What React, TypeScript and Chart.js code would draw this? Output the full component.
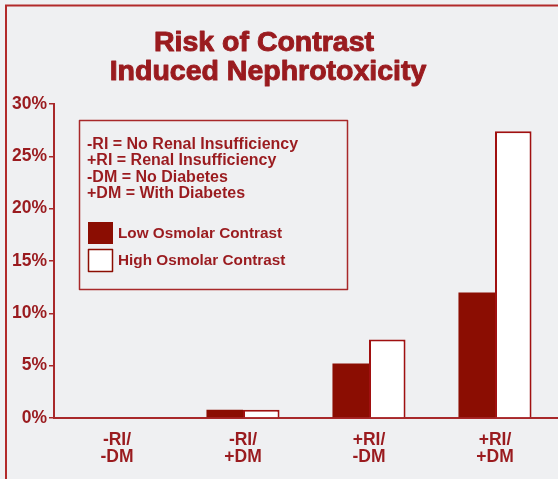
import React, { useEffect, useRef } from "react";
import { Chart, registerables } from "chart.js";

Chart.register(...registerables);

const categories: string[][] = [["-RI/", "-DM"], ["-RI/", "+DM"], ["+RI/", "-DM"], ["+RI/", "+DM"]];
const lowOsmolar: number[] = [0, 0.8, 5.2, 12];
const highOsmolar: number[] = [0, 0.8, 7.5, 27.4];
const yTicks: number[] = [0, 5, 10, 15, 20, 25, 30];
const titleLines: string[] = ["Risk of Contrast", "Induced Nephrotoxicity"];
const keyLines: string[] = [
  "-RI = No Renal Insufficiency",
  "+RI = Renal Insufficiency",
  "-DM = No Diabetes",
  "+DM = With Diabetes",
];
const seriesNames: string[] = ["Low Osmolar Contrast", "High Osmolar Contrast"];

const RED_TEXT = "#9a1b1f";
const DARK = "#8b0d02";
const BG = "#eff0f2";
const FONT = "'Liberation Sans', Arial, sans-serif";

const decorPlugin = {
  id: "decor",
  beforeDraw(chart: any) {
    const ctx = chart.ctx;
    ctx.save();
    ctx.fillStyle = BG;
    ctx.fillRect(0, 0, chart.width, chart.height);
    ctx.strokeStyle = "#b22a2a";
    ctx.lineWidth = 2;
    ctx.beginPath();
    ctx.moveTo(6, chart.height + 2);
    ctx.lineTo(6, 5.5);
    ctx.lineTo(chart.width + 2, 5.5);
    ctx.stroke();
    ctx.restore();
  },
  afterDraw(chart: any) {
    const ctx = chart.ctx;
    ctx.save();
    ctx.fillStyle = RED_TEXT;
    ctx.strokeStyle = RED_TEXT;
    ctx.lineWidth = 1;
    ctx.lineJoin = "round";
    ctx.font = `bold 28.5px ${FONT}`;
    ctx.textAlign = "center";
    ctx.textBaseline = "middle";
    ctx.fillText(titleLines[0], 264, 43);
    ctx.strokeText(titleLines[0], 264, 43);
    ctx.fillText(titleLines[1], 268, 72);
    ctx.strokeText(titleLines[1], 268, 72);
    ctx.strokeStyle = "#a8282a";
    ctx.lineWidth = 1.5;
    ctx.strokeRect(79.5, 120.5, 268, 169);
    ctx.font = `bold 16px ${FONT}`;
    ctx.textAlign = "left";
    keyLines.forEach((t, i) => ctx.fillText(t, 87, 144.5 + i * 16.3));
    ctx.fillStyle = DARK;
    ctx.fillRect(88, 222, 25, 22);
    ctx.fillStyle = "#ffffff";
    ctx.fillRect(88.5, 249.5, 24, 22);
    ctx.strokeStyle = DARK;
    ctx.lineWidth = 1.5;
    ctx.strokeRect(88.5, 249.5, 24, 22);
    ctx.fillStyle = RED_TEXT;
    ctx.font = `bold 15.3px ${FONT}`;
    ctx.fillText(seriesNames[0], 118, 234);
    ctx.fillText(seriesNames[1], 118, 261);
    ctx.restore();
  },
};

export default function App() {
  const ref = useRef<HTMLCanvasElement | null>(null);
  useEffect(() => {
    document.body.style.margin = "0";
    document.body.style.background = BG;
    const chart = new Chart(ref.current as HTMLCanvasElement, {
      type: "bar",
      data: {
        labels: categories,
        datasets: [
          {
            label: seriesNames[0],
            data: lowOsmolar,
            backgroundColor: DARK,
            borderWidth: 0,
          },
          {
            label: seriesNames[1],
            data: highOsmolar,
            backgroundColor: "#ffffff",
            borderColor: "#a01010",
            borderWidth: 2,
          },
        ],
      },
      options: {
        animation: false,
        responsive: false,
        layout: { padding: { top: 104, right: 0, left: 0, bottom: 0 } },
        plugins: { legend: { display: false }, title: { display: false }, tooltip: { enabled: false } },
        datasets: { bar: { categoryPercentage: 0.58, barPercentage: 1 } },
        scales: {
          x: {
            grid: { display: false },
            border: { display: true, color: "#a8282a", width: 2 },
            ticks: {
              color: RED_TEXT,
              font: { family: FONT, size: 17.5, weight: "bold", lineHeight: 1.0 },
              padding: 5,
              maxRotation: 0,
            },
            afterFit(scale: any) {
              scale.height = 61;
            },
          },
          y: {
            min: 0,
            max: 30,
            afterBuildTicks(scale: any) {
              scale.ticks = yTicks.map((v) => ({ value: v }));
            },
            grid: {
              display: true,
              drawOnChartArea: false,
              drawTicks: true,
              tickLength: 5,
              color: "#a8282a",
              lineWidth: 1.5,
            },
            border: { display: true, color: "#a8282a", width: 2 },
            ticks: {
              color: RED_TEXT,
              font: { family: FONT, size: 17.5, weight: "bold" },
              padding: 2,
              callback: (v: any) => `${v}%`,
            },
            afterFit(scale: any) {
              scale.width = 54;
            },
          },
        },
      },
      plugins: [decorPlugin],
    });
    return () => chart.destroy();
  }, []);
  return <canvas ref={ref} width={558} height={479} style={{ display: "block" }} />;
}
